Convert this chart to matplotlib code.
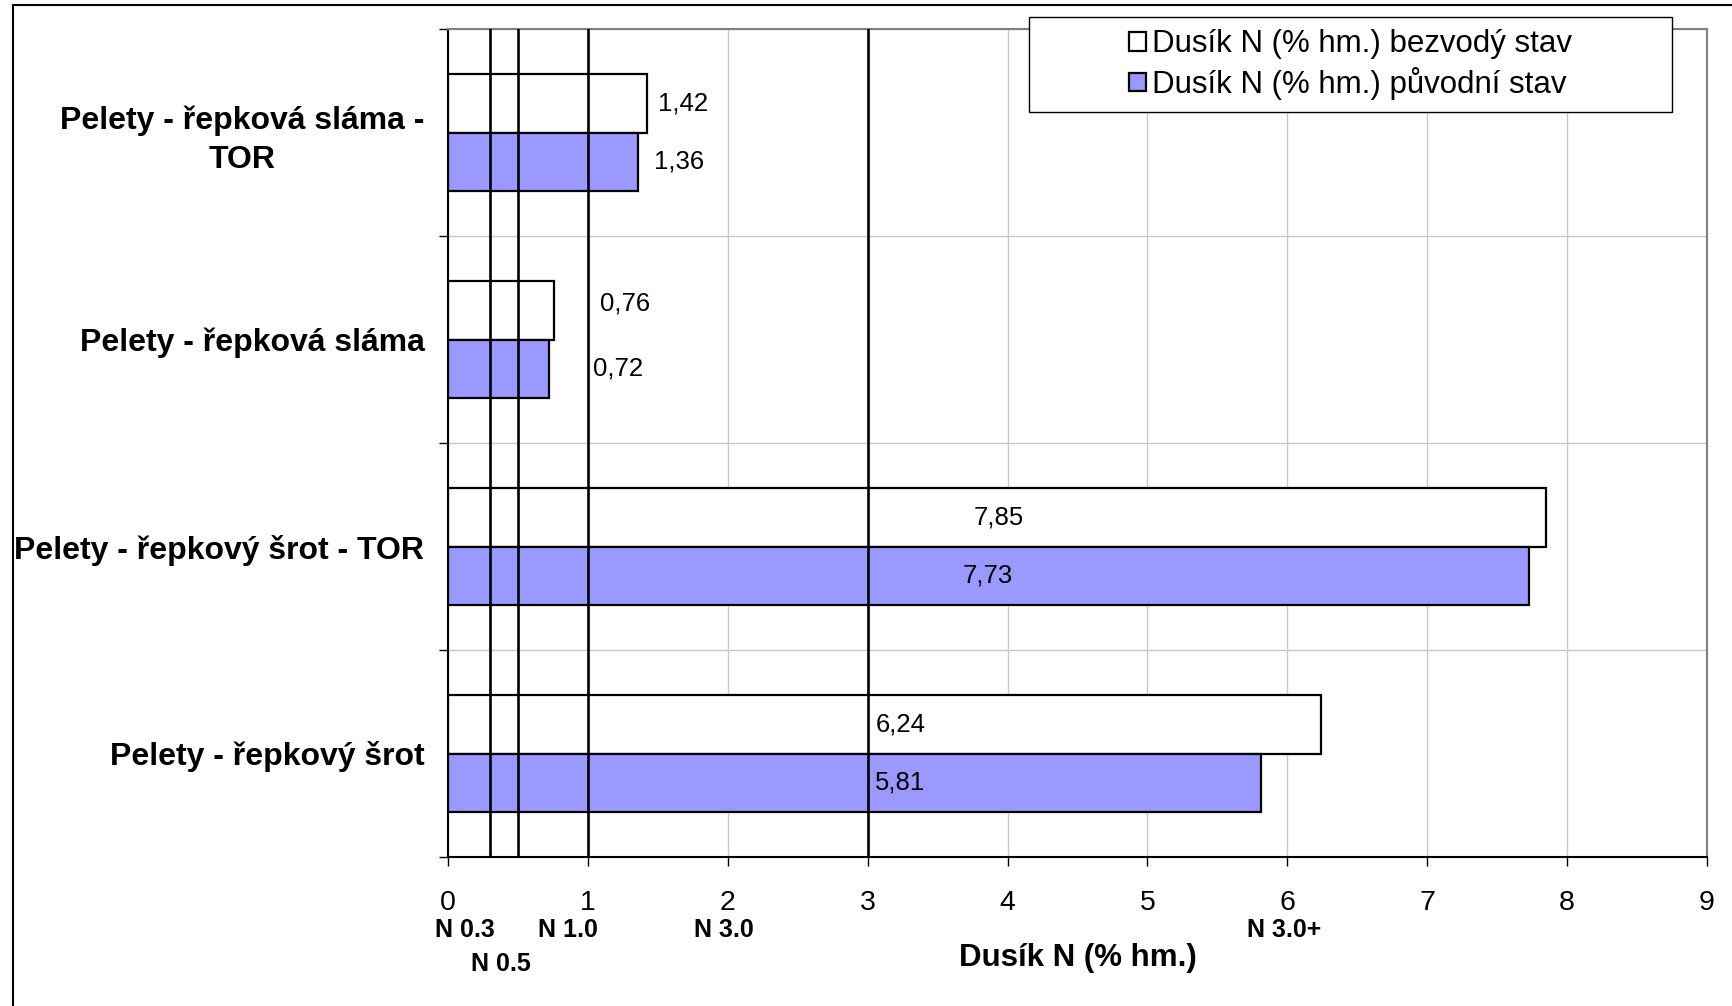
import numpy as np
import matplotlib
matplotlib.use("Agg")
import matplotlib.pyplot as plt
from matplotlib.patches import Rectangle
from matplotlib.lines import Line2D
from matplotlib.transforms import blended_transform_factory

plt.rcParams['font.family'] = ['Liberation Sans', 'DejaVu Sans']

# data (top to bottom)
categories = ["Pelety - řepková sláma -\nTOR",
              "Pelety - řepková sláma",
              "Pelety - řepkový šrot - TOR",
              "Pelety - řepkový šrot"]
n_dry = [1.42, 0.76, 7.85, 6.24]        # bezvodý stav
n_orig = [1.36, 0.72, 7.73, 5.81]       # původní stav
dry_labels = ["1,42", "0,76", "7,85", "6,24"]
orig_labels = ["1,36", "0,72", "7,73", "5,81"]
series_names = ["Dusík N (% hm.) bezvodý stav", "Dusík N (% hm.) původní stav"]

# class limits (N classes)
class_limits = [0.3, 0.5, 1.0, 3.0]
class_names = ["N 0.3", "N 0.5", "N 1.0", "N 3.0", "N 3.0+"]

# layout helpers (where the labels sit)
dry_lbl_x = [1.50, 1.09, 3.755, 3.06]
orig_lbl_x = [1.475, 1.04, 3.68, 3.05]
dry_lbl_dy = [0.0, -0.03, 0.0, 0.0]
class_lbl_x = [0.12, 0.38, 0.86, 1.975, 5.98]
class_lbl_y = [0.0755, 0.0417, 0.0755, 0.0755, 0.0755]

fig = plt.figure(figsize=(17.33, 10.06), dpi=100)
ax = fig.add_axes([448/1733, 1-857/1006, (1707-448)/1733, (857-29)/1006])

y = np.arange(len(categories))
h = 0.285
ax.barh(y - h/2, n_dry, height=h, color='white', edgecolor='black', linewidth=1.6,
        label=series_names[0], zorder=2)
ax.barh(y + h/2, n_orig, height=h, color='#9999FF', edgecolor='black', linewidth=1.6,
        label=series_names[1], zorder=2)

for lim in class_limits:
    ax.axvline(lim, color='black', lw=1.9, zorder=3)

for i in range(len(categories)):
    ax.text(dry_lbl_x[i], y[i] - h/2 + dry_lbl_dy[i], dry_labels[i], fontsize=18.5,
            va='center', ha='left', zorder=4)
    ax.text(orig_lbl_x[i], y[i] + h/2, orig_labels[i], fontsize=18.5,
            va='center', ha='left', zorder=4)

ax.set_xlim(0, 9)
ax.set_ylim(3.5, -0.5)
ax.set_xticks(np.arange(0, 10))
ax.set_yticks(y)
ax.set_yticklabels(categories, fontsize=23, fontweight='bold', linespacing=1.4)
for lab in ax.get_yticklabels():
    lab.set_multialignment('center')
ax.set_yticks(np.arange(-0.5, 4.0, 1.0), minor=True)
ax.tick_params(axis='y', which='major', length=0, pad=17)
ax.tick_params(axis='y', which='minor', length=6.5, width=1)
ax.tick_params(axis='x', which='major', length=6.5, width=1, labelsize=20.5, pad=17)

ax.set_axisbelow(True)
ax.grid(axis='x', which='major', color='#c8c8c8', lw=1)
ax.grid(axis='y', which='minor', color='#c8c8c8', lw=1)

for s in ['left', 'bottom']:
    ax.spines[s].set_color('black')
    ax.spines[s].set_linewidth(1.5)
for s in ['top', 'right']:
    ax.spines[s].set_color('#808080')
    ax.spines[s].set_linewidth(1.5)

ax.set_xlabel("Dusík N (% hm.)", fontsize=22.5, fontweight='bold')
ax.xaxis.set_label_coords(0.5, (0.0477 - (1-857/1006)) / ((857-29)/1006))
ax.xaxis.label.set_verticalalignment('center')

trans = blended_transform_factory(ax.transData, fig.transFigure)
for name, lx, ly in zip(class_names, class_lbl_x, class_lbl_y):
    ax.text(lx, ly, name, transform=trans, fontsize=18, fontweight='bold',
            ha='center', va='center', clip_on=False)

# legend box
box = Rectangle((0.4615, 0.8998), 0.5105, 0.1147, transform=ax.transAxes,
                facecolor='white', edgecolor='black', lw=1.0, clip_on=False, zorder=5)
ax.add_patch(box)
leg = ax.legend(loc='center', bbox_to_anchor=(0.7168, 0.957), frameon=False,
                fontsize=22.5, handlelength=0.55, handleheight=0.55, handletextpad=0.2,
                labelspacing=0.25, borderpad=0)
leg.set_zorder(6)

# outer frame (left and top edges)
fig.add_artist(Line2D([12.7/1733, 12.7/1733], [0, 1-4.7/1006], color='black', lw=1.5))
fig.add_artist(Line2D([12.7/1733, 1], [1-4.7/1006, 1-4.7/1006], color='black', lw=1.5))

fig.savefig("out.png", dpi=100)
